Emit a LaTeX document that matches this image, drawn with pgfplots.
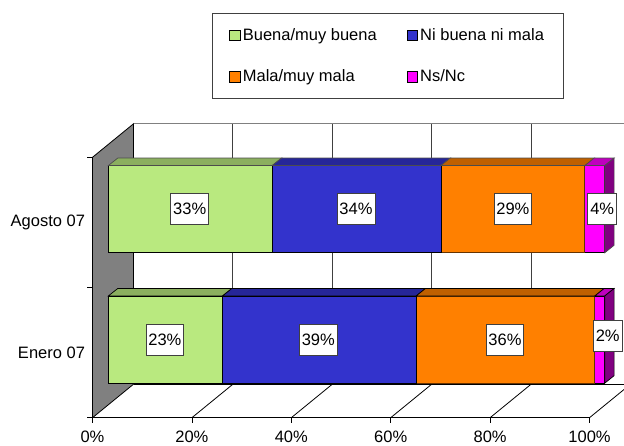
\documentclass[border=0pt]{standalone}
\usepackage{pgfplots}
\pgfplotsset{compat=1.18}
\usepackage{fontspec}
\setmainfont{Liberation Sans}
\definecolor{cG}{HTML}{B9E97F}
\definecolor{cB}{HTML}{3333CC}
\definecolor{cO}{HTML}{FF8000}
\definecolor{cM}{HTML}{FF00FF}
\definecolor{tG}{HTML}{8BAF5F}
\definecolor{tB}{HTML}{262699}
\definecolor{tO}{HTML}{BF6000}
\definecolor{tM}{HTML}{BF00BF}
\definecolor{sM}{HTML}{800080}
\definecolor{wall}{HTML}{808080}
\definecolor{grid}{HTML}{404040}
\newcommand{\chartfont}{\fontsize{16.5}{19}\selectfont}
\begin{document}
\begin{tikzpicture}
\useasboundingbox (0,0) rectangle (624pt,445pt);
% frame: walls, floor, axes
\begin{axis}[
  at={(92.5pt,27.3pt)}, anchor=south west,
  scale only axis, width=497pt, height=260.4pt,
  xmin=0, xmax=100, ymin=0, ymax=2, clip=false,
  axis x line=bottom, axis y line=left,
  axis line style={-, black, line width=1pt},
  tick align=outside, major tick length=5pt,
  xtick={0,20,40,60,80,100},
  xticklabel={\pgfmathprintnumber{\tick}\%},
  ytick={0.5,1.5}, yticklabels={Enero 07,Agosto 07},
  y tick style={draw=none},
  extra y ticks={0,1,2}, extra y tick labels={},
  extra y tick style={y tick style={draw=black, line width=.8pt}},
  x tick style={black, line width=.8pt},
  /pgf/number format/assume math mode=true,
  tick label style={font=\chartfont},
  xticklabel style={yshift=-5pt},
  yticklabel style={xshift=1pt},
]
\addplot[fill=wall, draw=black, line width=.8pt] coordinates {(0,0) (8.25,0.2573) (8.25,2.2573) (0,2)} --cycle;
% back wall
\addplot[draw=wall, line width=1pt] coordinates {(8.25,2.2573) (106.94,2.2573)};
\addplot[draw=grid, line width=1pt] coordinates {(28.25,0.2573) (28.25,2.2573)};
\addplot[draw=grid, line width=1pt] coordinates {(48.25,0.2573) (48.25,2.2573)};
\addplot[draw=grid, line width=1pt] coordinates {(68.25,0.2573) (68.25,2.2573)};
\addplot[draw=grid, line width=1pt] coordinates {(88.25,0.2573) (88.25,2.2573)};
% floor
\addplot[draw=black, line width=1.2pt] coordinates {(8.25,0.2573) (106.94,0.2573)};
\addplot[draw=black, line width=.8pt] coordinates {(20,0) (28.25,0.2573)};
\addplot[draw=black, line width=.8pt] coordinates {(40,0) (48.25,0.2573)};
\addplot[draw=black, line width=.8pt] coordinates {(60,0) (68.25,0.2573)};
\addplot[draw=black, line width=.8pt] coordinates {(80,0) (88.25,0.2573)};
\addplot[draw=black, line width=.8pt] coordinates {(100,0) (106.94,0.2165)};
\end{axis}
% bars
\begin{axis}[
  at={(108.3pt,40.2pt)}, anchor=south west,
  scale only axis, width=496.4pt, height=260.8pt,
  xmin=0, xmax=100, ymin=-0.5, ymax=1.5, clip=false,
  hide axis,
  xbar stacked, bar width=87pt,
  legend columns=2,
  legend cell align=left,
  legend image code/.code={\draw[#1, draw=black, line width=.7pt] (0pt,-5.3pt) rectangle (10.7pt,5.3pt);},
  legend style={
    at={(0.2089,1.5023)}, anchor=north west,
    font=\chartfont, draw=grid, line width=.9pt, fill=white,
    inner xsep=17pt, inner ysep=13pt,
    /tikz/column 2/.style={column sep=28pt},
    /tikz/row sep=24pt,
  },
]
\addplot[fill=cG, draw=black, line width=.7pt] coordinates {(23,0) (33,1)};
\addplot[fill=cB, draw=black, line width=.7pt] coordinates {(39,0) (34,1)};
\addplot[fill=cO, draw=black!60!cO, line width=.7pt] coordinates {(36,0) (29,1)};
\addplot[fill=cM, draw=black, line width=.7pt] coordinates {(2,0) (4,1)};
\legend{Buena/muy buena, Ni buena ni mala\hspace{5pt}, Mala/muy mala, Ns/Nc}
\end{axis}
% depth faces and data labels
\begin{axis}[
  at={(108.3pt,40.2pt)}, anchor=south west,
  scale only axis, width=496.4pt, height=260.8pt,
  xmin=0, xmax=100, ymin=-0.5, ymax=1.5, clip=false,
  hide axis,
]
\addplot[fill=tG, draw=black!70, line width=.7pt] coordinates {(0,1.3344) (33,1.3344) (34.894,1.3919) (1.894,1.3919)} --cycle;
\addplot[fill=tB, draw=black!70, line width=.7pt] coordinates {(33,1.3344) (67,1.3344) (68.894,1.3919) (34.894,1.3919)} --cycle;
\addplot[fill=tO, draw=black!70, line width=.7pt] coordinates {(67,1.3344) (96,1.3344) (97.894,1.3919) (68.894,1.3919)} --cycle;
\addplot[fill=tM, draw=black!70, line width=.7pt] coordinates {(96,1.3344) (100,1.3344) (101.894,1.3919) (97.894,1.3919)} --cycle;
\addplot[fill=sM, draw=black!70, line width=.7pt] coordinates {(100,0.6656) (100,1.3344) (101.894,1.3919) (101.894,0.7231)} --cycle;
\addplot[fill=tG, draw=black, line width=.7pt] coordinates {(0,0.3344) (23,0.3344) (24.894,0.3919) (1.894,0.3919)} --cycle;
\addplot[fill=tB, draw=black, line width=.7pt] coordinates {(23,0.3344) (62,0.3344) (63.894,0.3919) (24.894,0.3919)} --cycle;
\addplot[fill=tO, draw=black, line width=.7pt] coordinates {(62,0.3344) (98,0.3344) (99.894,0.3919) (63.894,0.3919)} --cycle;
\addplot[fill=tM, draw=black, line width=.7pt] coordinates {(98,0.3344) (100,0.3344) (101.894,0.3919) (99.894,0.3919)} --cycle;
\addplot[fill=sM, draw=black, line width=.7pt] coordinates {(100,-0.3344) (100,0.3344) (101.894,0.3919) (101.894,-0.2769)} --cycle;
\addplot[only marks, mark=none, nodes near coords, point meta=explicit symbolic,
  nodes near coords style={anchor=center, font=\chartfont, fill=white, draw=grid, line width=.8pt,
    inner xsep=2.4pt, inner ysep=0pt, minimum height=31pt}]
  coordinates {(16.4,1)[33\%] (49.9,1)[34\%] (81.5,1)[29\%] (99.5,1)[4\%]
               (11.4,0)[23\%] (42.3,0)[39\%] (79.9,0)[36\%] (100.6,0.028)[2\%]};
\end{axis}
\end{tikzpicture}
\end{document}
